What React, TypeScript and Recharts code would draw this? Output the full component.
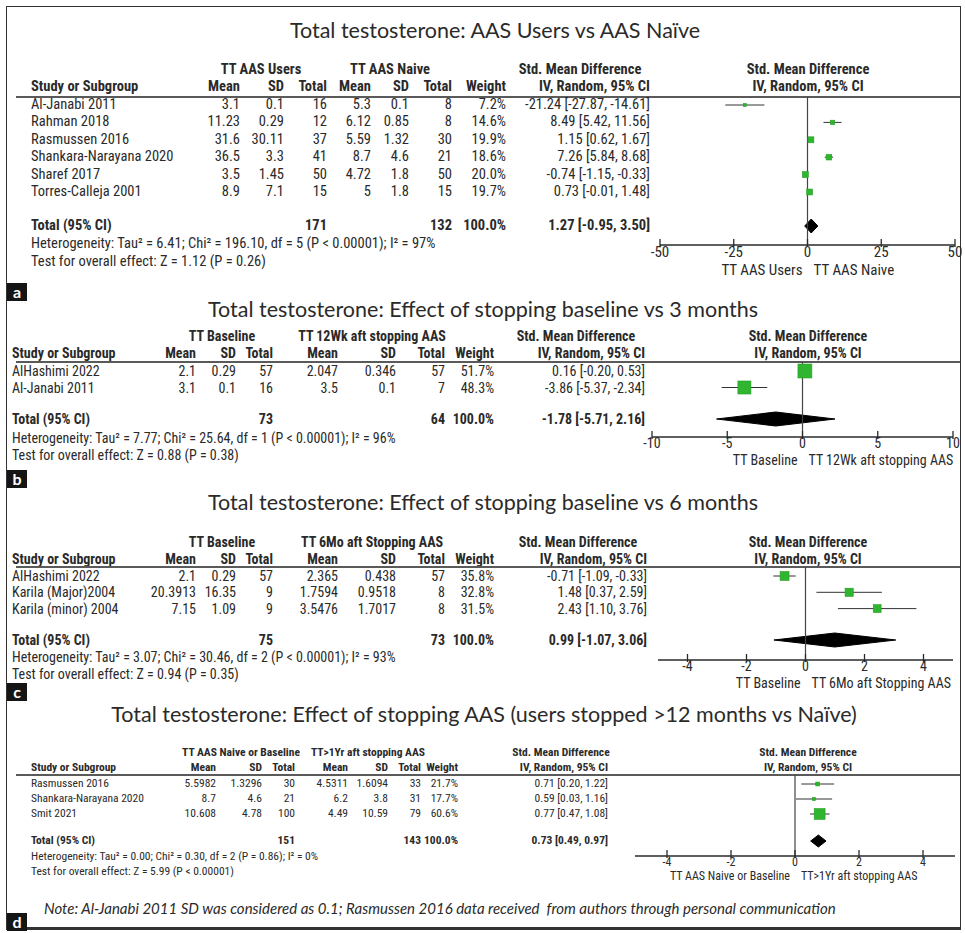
import React from "react";
import { Area, ComposedChart, ErrorBar, ReferenceLine, Scatter, XAxis, YAxis } from "recharts";

// ---- panel a: AAS users vs naive
const aTitle = "Total testosterone: AAS Users vs AAS Naïve";
const aGroups = ["TT AAS Users", "TT AAS Naive"];
const aStudies = ["Al-Janabi 2011", "Rahman 2018", "Rasmussen 2016", "Shankara-Narayana 2020", "Sharef 2017", "Torres-Calleja 2001"];
const aMean1 = [3.1, 11.23, 31.6, 36.5, 3.5, 8.9];
const aSd1 = [0.1, 0.29, 30.11, 3.3, 1.45, 7.1];
const aN1 = [16, 12, 37, 41, 50, 15];
const aMean2 = [5.3, 6.12, 5.59, 8.7, 4.72, 5];
const aSd2 = [0.1, 0.85, 1.32, 4.6, 1.8, 1.8];
const aN2 = [8, 8, 30, 21, 50, 15];
const aWeight = [7.2, 14.6, 19.9, 18.6, 20.0, 19.7];
const aSmd = [-21.24, 8.49, 1.15, 7.26, -0.74, 0.73];
const aLo = [-27.87, 5.42, 0.62, 5.84, -1.15, -0.01];
const aHi = [-14.61, 11.56, 1.67, 8.68, -0.33, 1.48];
const aTotalN = [171, 132];
const aTotalSmd = [1.27, -0.95, 3.5];
const aHet = "Heterogeneity: Tau² = 6.41; Chi² = 196.10, df = 5 (P < 0.00001); I² = 97%";
const aTest = "Test for overall effect: Z = 1.12 (P = 0.26)";
const aTicks = [-50, -25, 0, 25, 50];

// ---- panel b: baseline vs 3 months
const bTitle = "Total testosterone: Effect of stopping baseline vs 3 months";
const bGroups = ["TT Baseline", "TT 12Wk aft stopping AAS"];
const bStudies = ["AlHashimi 2022", "Al-Janabi 2011"];
const bMean1 = [2.1, 3.1];
const bSd1 = [0.29, 0.1];
const bN1 = [57, 16];
const bMean2 = [2.047, 3.5];
const bSd2 = [0.346, 0.1];
const bN2 = [57, 7];
const bWeight = [51.7, 48.3];
const bSmd = [0.16, -3.86];
const bLo = [-0.2, -5.37];
const bHi = [0.53, -2.34];
const bTotalN = [73, 64];
const bTotalSmd = [-1.78, -5.71, 2.16];
const bHet = "Heterogeneity: Tau² = 7.77; Chi² = 25.64, df = 1 (P < 0.00001); I² = 96%";
const bTest = "Test for overall effect: Z = 0.88 (P = 0.38)";
const bTicks = [-10, -5, 0, 5, 10];

// ---- panel c: baseline vs 6 months
const cTitle = "Total testosterone: Effect of stopping baseline vs 6 months";
const cGroups = ["TT Baseline", "TT 6Mo aft Stopping AAS"];
const cStudies = ["AlHashimi 2022", "Karila (Major)2004", "Karila (minor) 2004"];
const cMean1 = [2.1, 20.3913, 7.15];
const cSd1 = [0.29, 16.35, 1.09];
const cN1 = [57, 9, 9];
const cMean2 = [2.365, 1.7594, 3.5476];
const cSd2 = [0.438, 0.9518, 1.7017];
const cN2 = [57, 8, 8];
const cWeight = [35.8, 32.8, 31.5];
const cSmd = [-0.71, 1.48, 2.43];
const cLo = [-1.09, 0.37, 1.1];
const cHi = [-0.33, 2.59, 3.76];
const cTotalN = [75, 73];
const cTotalSmd = [0.99, -1.07, 3.06];
const cHet = "Heterogeneity: Tau² = 3.07; Chi² = 30.46, df = 2 (P < 0.00001); I² = 93%";
const cTest = "Test for overall effect: Z = 0.94 (P = 0.35)";
const cTicks = [-4, -2, 0, 2, 4];

// ---- panel d: stopped > 12 months vs naive
const dTitle = "Total testosterone: Effect of stopping AAS (users stopped >12 months vs Naïve)";
const dGroups = ["TT AAS Naive or Baseline", "TT>1Yr aft stopping AAS"];
const dStudies = ["Rasmussen 2016", "Shankara-Narayana 2020", "Smit 2021"];
const dMean1 = [5.5982, 8.7, 10.608];
const dSd1 = [1.3296, 4.6, 4.78];
const dN1 = [30, 21, 100];
const dMean2 = [4.5311, 6.2, 4.49];
const dSd2 = [1.6094, 3.8, 10.59];
const dN2 = [33, 31, 79];
const dWeight = [21.7, 17.7, 60.6];
const dSmd = [0.71, 0.59, 0.77];
const dLo = [0.2, 0.03, 0.47];
const dHi = [1.22, 1.16, 1.08];
const dTotalN = [151, 143];
const dTotalSmd = [0.73, 0.49, 0.97];
const dHet = "Heterogeneity: Tau² = 0.00; Chi² = 0.30, df = 2 (P = 0.86); I² = 0%";
const dTest = "Test for overall effect: Z = 5.99 (P < 0.00001)";
const dTicks = [-4, -2, 0, 2, 4];

const note =
  "Note: Al-Janabi 2011 SD was considered as 0.1; Rasmussen 2016 data received  from authors through personal communication";

const W = 965;
const H = 933;
const NARROW = "'Liberation Sans Narrow','Arial Narrow','Roboto Condensed','Liberation Sans',Arial,sans-serif";
const TITLE_FONT = "Lato,'Open Sans',sans-serif";
const INK = "#2a2a2a";
const GREEN = "#2fb52f";

const ci = (m: number, l: number, h: number) => `${m.toFixed(2)} [${l.toFixed(2)}, ${h.toFixed(2)}]`;

function T(props: {
  x: number;
  y: number;
  a?: "l" | "r" | "c";
  fs: number;
  bold?: boolean;
  italic?: boolean;
  family?: string;
  children: React.ReactNode;
}) {
  const { x, y, a = "l", fs, bold, italic, family = NARROW, children } = props;
  const style: React.CSSProperties = {
    position: "absolute",
    top: y,
    whiteSpace: "pre",
    fontSize: fs,
    fontFamily: family,
    fontWeight: bold ? 700 : 400,
    fontStyle: italic ? "italic" : "normal",
    lineHeight: 1,
    color: INK,
  };
  if (a === "l") {
    style.left = x;
    style.transform = "translateY(-50%)";
  } else if (a === "r") {
    style.right = W - x;
    style.transform = "translateY(-50%)";
  } else {
    style.left = x;
    style.transform = "translate(-50%,-50%)";
  }
  return <div style={style}>{children}</div>;
}

type Data = {
  title: string;
  groups: string[];
  studies: string[];
  cols: number[][];
  weight: number[];
  smd: number[];
  lo: number[];
  hi: number[];
  totalN: number[];
  totalSmd: number[];
  het: string;
  test: string;
  ticks: number[];
};

type Layout = {
  titleX: number;
  titleY: number;
  groupY: number;
  colY: number;
  lineY: number;
  rowY0: number;
  pitch: number;
  totalY: number;
  hetY: number;
  testY: number;
  axisY: number;
  left: number;
  colRight: number[]; // mean1 sd1 n1 mean2 sd2 n2 weight ci
  groupX: number[];
  smdX: number;
  rightX: number;
  plotLeft: number;
  plotRight: number;
  domain: [number, number];
  fs: number;
  tickFs: number;
  boxScale: number;
  diamondH: number;
  label: string;
  labelY: number;
};

function Panel({ d, L }: { d: Data; L: Layout }) {
  const h = L.axisY - L.lineY;
  const yMin = -(L.rowY0 - L.lineY) / L.pitch;
  const yMax = yMin + h / L.pitch;
  const vt = (L.totalY - L.rowY0) / L.pitch;
  const hh = L.diamondH / L.pitch;
  const mx = 24;
  const chartW = L.plotRight - L.plotLeft + 2 * mx;
  const axisH = 44;

  const points = d.studies.map((_, i) => ({
    x: d.smd[i],
    y: i,
    err: [d.smd[i] - d.lo[i], d.hi[i] - d.smd[i]],
    w: d.weight[i],
  }));
  const [tm, tl, th] = d.totalSmd;
  const diamond = [
    { x: tl, band: [vt, vt] },
    { x: tm, band: [vt - hh, vt + hh] },
    { x: th, band: [vt, vt] },
  ];

  const box = (p: any) => {
    const s = Math.max(3, p.payload.w * L.boxScale);
    return <rect x={p.cx - s / 2} y={p.cy - s / 2} width={s} height={s} fill={GREEN} stroke="#27a027" strokeWidth={0.6} />;
  };

  const tf = L.tickFs;
  const tick = (p: any) => {
    const { x, y, payload } = p;
    const v = payload.value as number;
    return (
      <g>
        <line x1={x} x2={x} y1={y - 6} y2={y + 2} stroke={INK} strokeWidth={1.3} />
        <text x={x} y={y + tf * 0.8} textAnchor="middle" fontSize={tf} fontFamily={NARROW} fill={INK}>
          {v}
        </text>
        {v === 0 && (
          <>
            <text x={x - 5} y={y + tf * 2.0} textAnchor="end" fontSize={tf} fontFamily={NARROW} fill={INK}>
              {d.groups[0]}
            </text>
            <text x={x + 6} y={y + tf * 2.0} textAnchor="start" fontSize={tf} fontFamily={NARROW} fill={INK}>
              {d.groups[1]}
            </text>
          </>
        )}
      </g>
    );
  };

  const fs = L.fs;
  const heads = ["Mean", "SD", "Total", "Mean", "SD", "Total", "Weight", "IV, Random, 95% CI"];

  return (
    <>
      <T x={L.titleX} y={L.titleY} a="c" fs={21.5} family={TITLE_FONT}>
        {d.title}
      </T>
      <T x={L.groupX[0]} y={L.groupY} a="c" fs={fs} bold>
        {d.groups[0]}
      </T>
      <T x={L.groupX[1]} y={L.groupY} a="c" fs={fs} bold>
        {d.groups[1]}
      </T>
      <T x={L.smdX} y={L.groupY} a="c" fs={fs} bold>
        Std. Mean Difference
      </T>
      <T x={L.rightX} y={L.groupY} a="c" fs={fs} bold>
        Std. Mean Difference
      </T>
      <T x={L.rightX} y={L.colY} a="c" fs={fs} bold>
        IV, Random, 95% CI
      </T>
      <T x={L.left} y={L.colY} fs={fs} bold>
        Study or Subgroup
      </T>
      {heads.map((t, j) => (
        <T key={j} x={L.colRight[j]} y={L.colY} a="r" fs={fs} bold>
          {t}
        </T>
      ))}
      <div
        style={{
          position: "absolute",
          left: 16,
          width: 944,
          top: L.lineY - 1,
          height: 0,
          borderTop: "2px solid #5a5a5a",
        }}
      />
      {d.studies.map((s, i) => {
        const y = L.rowY0 + i * L.pitch;
        const vals = [...d.cols.map((c) => String(c[i])), `${d.weight[i].toFixed(1)}%`, ci(d.smd[i], d.lo[i], d.hi[i])];
        return (
          <React.Fragment key={s}>
            <T x={L.left} y={y} fs={fs}>
              {s}
            </T>
            {vals.map((v, j) => (
              <T key={j} x={L.colRight[j]} y={y} a="r" fs={fs}>
                {v}
              </T>
            ))}
          </React.Fragment>
        );
      })}
      <T x={L.left} y={L.totalY} fs={fs} bold>
        Total (95% CI)
      </T>
      <T x={L.colRight[2]} y={L.totalY} a="r" fs={fs} bold>
        {String(d.totalN[0])}
      </T>
      <T x={L.colRight[5]} y={L.totalY} a="r" fs={fs} bold>
        {String(d.totalN[1])}
      </T>
      <T x={L.colRight[6]} y={L.totalY} a="r" fs={fs} bold>
        100.0%
      </T>
      <T x={L.colRight[7]} y={L.totalY} a="r" fs={fs} bold>
        {ci(tm, tl, th)}
      </T>
      <T x={L.left} y={L.hetY} fs={fs}>
        {d.het}
      </T>
      <T x={L.left} y={L.testY} fs={fs}>
        {d.test}
      </T>

      <div style={{ position: "absolute", left: L.plotLeft - mx, top: L.lineY }}>
        <ComposedChart width={chartW} height={h + axisH} data={diamond} margin={{ top: 0, right: mx, left: mx, bottom: 0 }}>
          <XAxis
            type="number"
            dataKey="x"
            domain={L.domain}
            ticks={d.ticks}
            interval={0}
            allowDataOverflow
            height={axisH}
            axisLine={{ stroke: INK, strokeWidth: 1.4 }}
            tickLine={false}
            tickSize={0}
            tickMargin={0}
            tick={tick}
          />
          <YAxis type="number" dataKey="y" domain={[yMin, yMax]} reversed hide allowDataOverflow />
          <ReferenceLine x={0} stroke="#444" strokeWidth={1.2} />
          <Area
            type="linear"
            dataKey="band"
            stroke="#000"
            strokeWidth={1}
            fill="#000"
            fillOpacity={1}
            dot={false}
            activeDot={false}
            isAnimationActive={false}
          />
          <Scatter data={points} shape={box} isAnimationActive={false}>
            <ErrorBar dataKey="err" direction="x" width={0} stroke="#333" strokeWidth={1} />
          </Scatter>
        </ComposedChart>
      </div>

      <div
        style={{
          position: "absolute",
          left: 7,
          top: L.labelY,
          width: 20,
          height: 18,
          background: "#151515",
          color: "#fff",
          fontFamily: TITLE_FONT,
          fontWeight: 700,
          fontSize: 16,
          lineHeight: "17px",
          textAlign: "center",
        }}
      >
        {L.label}
      </div>
    </>
  );
}

const panelA: Data = {
  title: aTitle, groups: aGroups, studies: aStudies,
  cols: [aMean1, aSd1, aN1, aMean2, aSd2, aN2],
  weight: aWeight, smd: aSmd, lo: aLo, hi: aHi, totalN: aTotalN, totalSmd: aTotalSmd,
  het: aHet, test: aTest, ticks: aTicks,
};
const panelB: Data = {
  title: bTitle, groups: bGroups, studies: bStudies,
  cols: [bMean1, bSd1, bN1, bMean2, bSd2, bN2],
  weight: bWeight, smd: bSmd, lo: bLo, hi: bHi, totalN: bTotalN, totalSmd: bTotalSmd,
  het: bHet, test: bTest, ticks: bTicks,
};
const panelC: Data = {
  title: cTitle, groups: cGroups, studies: cStudies,
  cols: [cMean1, cSd1, cN1, cMean2, cSd2, cN2],
  weight: cWeight, smd: cSmd, lo: cLo, hi: cHi, totalN: cTotalN, totalSmd: cTotalSmd,
  het: cHet, test: cTest, ticks: cTicks,
};
const panelD: Data = {
  title: dTitle, groups: dGroups, studies: dStudies,
  cols: [dMean1, dSd1, dN1, dMean2, dSd2, dN2],
  weight: dWeight, smd: dSmd, lo: dLo, hi: dHi, totalN: dTotalN, totalSmd: dTotalSmd,
  het: dHet, test: dTest, ticks: dTicks,
};

const layoutA: Layout = {
  titleX: 495, titleY: 31, groupY: 70, colY: 87, lineY: 97, rowY0: 105, pitch: 17.4,
  totalY: 226, hetY: 244, testY: 261.5, axisY: 245, left: 31,
  colRight: [240, 284, 327, 371, 409, 452, 506, 650], groupX: [261, 390], smdX: 580, rightX: 808,
  plotLeft: 660, plotRight: 955, domain: [-50, 50], fs: 14.5, tickFs: 15, boxScale: 0.3, diamondH: 7,
  label: "a", labelY: 283,
};
const layoutB: Layout = {
  titleX: 483, titleY: 310, groupY: 336, colY: 353, lineY: 362, rowY0: 371, pitch: 16.5,
  totalY: 419, hetY: 438, testY: 455, axisY: 437, left: 12,
  colRight: [196, 236, 273, 338, 396, 445, 494, 645], groupX: [222, 372], smdX: 576, rightX: 808,
  plotLeft: 652, plotRight: 953, domain: [-10, 10], fs: 14, tickFs: 14, boxScale: 0.27, diamondH: 7,
  label: "b", labelY: 470,
};
const layoutC: Layout = {
  titleX: 483, titleY: 503, groupY: 542, colY: 559, lineY: 567, rowY0: 576, pitch: 16.3,
  totalY: 640, hetY: 657, testY: 674, axisY: 660, left: 12,
  colRight: [196, 236, 273, 338, 396, 445, 494, 647], groupX: [222, 372], smdX: 578, rightX: 808,
  plotLeft: 657.5, plotRight: 952.5, domain: [-5, 5], fs: 14, tickFs: 14, boxScale: 0.25, diamondH: 7,
  label: "c", labelY: 683,
};
const layoutD: Layout = {
  titleX: 484, titleY: 715, groupY: 753, colY: 767.5, lineY: 775, rowY0: 784, pitch: 15,
  totalY: 841, hetY: 857, testY: 872, axisY: 856, left: 31,
  colRight: [216, 262, 295, 348, 388, 421, 458, 608], groupX: [241, 368], smdX: 561, rightX: 808,
  plotLeft: 635, plotRight: 955, domain: [-5, 5], fs: 11.5, tickFs: 12, boxScale: 0.18, diamondH: 6,
  label: "d", labelY: 913,
};

export default function App() {
  return (
    <div
      style={{
        position: "absolute",
        left: 0,
        top: 0,
        width: W,
        height: H,
        background: "#fff",
        overflow: "hidden",
      }}
    >
      <div
        style={{
          position: "absolute",
          left: 6,
          top: 6,
          width: 955,
          height: 924,
          border: "1.5px solid #333",
          borderBottomWidth: 3,
          boxSizing: "border-box",
        }}
      />
      <Panel d={panelA} L={layoutA} />
      <Panel d={panelB} L={layoutB} />
      <Panel d={panelC} L={layoutC} />
      <Panel d={panelD} L={layoutD} />
      <T x={44} y={908} fs={15} italic family={TITLE_FONT}>
        {note}
      </T>
    </div>
  );
}
